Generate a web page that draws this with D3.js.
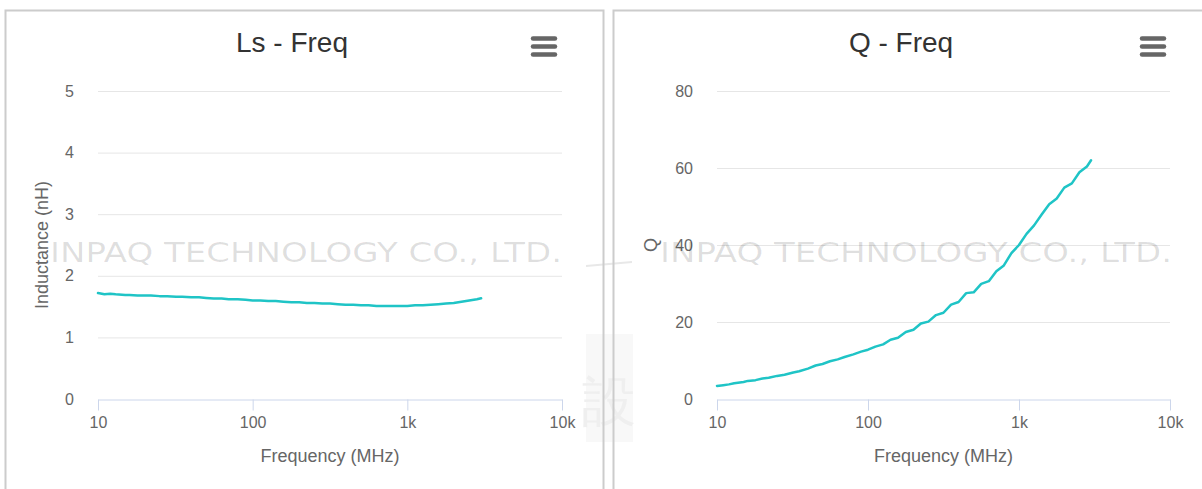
<!DOCTYPE html>
<html>
<head>
<meta charset="utf-8">
<script src="https://cdn.jsdelivr.net/npm/d3@7"></script>
<style>
  html, body { margin: 0; padding: 0; background: #fff; }
  svg { display: block; font-family: "Liberation Sans", Arial, Helvetica, sans-serif; }
</style>
</head>
<body>
<div id="chart"></div>
<script>
// frequency points (MHz)
const freqs = [10, 11, 12, 13, 15, 16, 18, 20, 22, 25, 28, 32, 35, 40, 45, 50, 56, 63, 70, 80, 90,
  100, 112, 126, 141, 158, 178, 200, 224, 251, 282, 316, 355, 398, 447, 501, 562, 631, 708, 794, 891,
  1000, 1122, 1259, 1413, 1585, 1778, 1995, 2239, 2512, 2818, 3000];

// inductance Ls (nH)
const lsValues = [1.72, 1.70, 1.71, 1.70, 1.69, 1.69, 1.68, 1.68, 1.68, 1.67, 1.67, 1.66, 1.66, 1.65, 1.65, 1.64, 1.63, 1.63, 1.62, 1.62, 1.61,
  1.60, 1.60, 1.59, 1.59, 1.58, 1.57, 1.57, 1.56, 1.56, 1.55, 1.55, 1.54, 1.53, 1.53, 1.52, 1.52, 1.51, 1.51, 1.51, 1.51,
  1.51, 1.52, 1.52, 1.53, 1.54, 1.55, 1.56, 1.58, 1.60, 1.62, 1.635];

// quality factor Q
const qValues = [3.4, 3.6, 3.8, 4.1, 4.4, 4.7, 4.9, 5.3, 5.5, 6.0, 6.3, 6.9, 7.2, 7.9, 8.7, 9.1, 9.8, 10.3, 10.9, 11.6, 12.3,
  12.8, 13.6, 14.2, 15.4, 15.9, 17.4, 18.0, 19.6, 20.1, 21.8, 22.4, 24.5, 25.2, 27.5, 27.7, 29.9, 30.6, 33.2, 34.7, 37.9,
  40.0, 42.9, 45.1, 47.9, 50.6, 52.1, 54.9, 56.0, 58.9, 60.4, 62.0];

const xTicks = [10, 100, 1000, 10000];
const xTickLabels = ['10', '100', '1k', '10k'];
const lsTicks = [0, 1, 2, 3, 4, 5];
const qTicks = [0, 20, 40, 60, 80];

const W = 1202, H = 489;
const LINE_COLOR = '#1fc4c6';

const svg = d3.select('#chart').append('svg')
  .attr('width', W)
  .attr('height', H);

// faint logo piece between the two panels (part of the page watermark)
svg.append('rect')
  .attr('x', 586).attr('y', 334).attr('width', 47).attr('height', 108)
  .attr('fill', '#f8f8f8');
svg.append('text')
  .attr('x', 609).attr('y', 420)
  .attr('text-anchor', 'middle')
  .attr('font-size', 54)
  .attr('fill', '#efefef')
  .text('設');
svg.append('path')
  .attr('d', 'M586,266 L632,262')
  .attr('stroke', '#e8e8e8')
  .attr('stroke-width', 2);

function drawPanel(cfg) {
  const g = svg.append('g');

  // panel frame
  g.append('rect')
    .attr('x', cfg.panelX + 0.5).attr('y', 10.5)
    .attr('width', cfg.panelW).attr('height', 520)
    .attr('fill', 'none')
    .attr('stroke', '#cccccc')
    .attr('stroke-width', 2);

  const x = d3.scaleLog().domain([10, 10000]).range([cfg.left, cfg.right]);
  const y = d3.scaleLinear().domain([0, cfg.yMax]).range([399, 91]);

  // title
  g.append('text')
    .attr('x', cfg.titleX).attr('y', 52)
    .attr('text-anchor', 'middle')
    .attr('font-size', 28)
    .attr('fill', '#333333')
    .text(cfg.title);

  // context menu icon
  [38.5, 46.5, 54.5].forEach(cy => {
    g.append('line')
      .attr('x1', cfg.menuX + 2).attr('x2', cfg.menuX + 24)
      .attr('y1', cy).attr('y2', cy)
      .attr('stroke', '#666666')
      .attr('stroke-width', 4.5)
      .attr('stroke-linecap', 'round');
  });

  // gridlines + y labels
  const yAxis = d3.axisLeft(y)
    .tickValues(cfg.yTicks)
    .tickFormat(d3.format('d'))
    .tickSize(-(cfg.right - cfg.left))
    .tickPadding(24);
  const ya = g.append('g')
    .attr('transform', `translate(${cfg.left},0)`)
    .call(yAxis);
  ya.select('.domain').remove();
  ya.selectAll('.tick line')
    .attr('stroke', '#e6e6e6')
    .attr('stroke-width', 1)
    .filter(d => d === 0).remove();
  ya.selectAll('.tick text')
    .attr('font-size', 16)
    .attr('font-family', '"Liberation Sans", Arial, sans-serif')
    .attr('fill', '#666666');

  // y title
  g.append('text')
    .attr('transform', `translate(${cfg.yTitleX},245) rotate(-90)`)
    .attr('text-anchor', 'middle')
    .attr('font-size', 18)
    .attr('fill', '#666666')
    .text(cfg.yTitle);

  // watermark
  g.append('text')
    .attr('x', cfg.wmX).attr('y', 262)
    .attr('font-family', '"DejaVu Sans", sans-serif')
    .attr('font-size', 27)
    .attr('textLength', 512)
    .attr('lengthAdjust', 'spacingAndGlyphs')
    .attr('fill', '#000')
    .attr('fill-opacity', 0.13)
    .text('INPAQ TECHNOLOGY CO., LTD.');

  // x axis
  const xAxis = d3.axisBottom(x)
    .tickValues(xTicks)
    .tickFormat((d, i) => xTickLabels[i])
    .tickSize(11)
    .tickSizeOuter(0)
    .tickPadding(6);
  const xa = g.append('g')
    .attr('transform', 'translate(0,399.5)')
    .call(xAxis);
  xa.select('.domain').attr('stroke', '#ccd6eb');
  xa.selectAll('.tick line').attr('stroke', '#ccd6eb');
  xa.selectAll('.tick text')
    .attr('font-size', 16)
    .attr('font-family', '"Liberation Sans", Arial, sans-serif')
    .attr('fill', '#666666');

  g.append('text')
    .attr('x', (cfg.left + cfg.right) / 2).attr('y', 462)
    .attr('text-anchor', 'middle')
    .attr('font-size', 18)
    .attr('fill', '#666666')
    .text('Frequency (MHz)');

  // series line
  const line = d3.line()
    .x((d, i) => x(freqs[i]))
    .y(d => y(d));
  g.append('path')
    .datum(cfg.values)
    .attr('fill', 'none')
    .attr('stroke', LINE_COLOR)
    .attr('stroke-width', 2.5)
    .attr('stroke-linejoin', 'round')
    .attr('stroke-linecap', 'round')
    .attr('d', line);
}

drawPanel({
  panelX: 5, panelW: 598, left: 98, right: 562, yMax: 5, yTicks: lsTicks,
  title: 'Ls - Freq', titleX: 292, menuX: 531, yTitle: 'Inductance (nH)', yTitleX: 48,
  wmX: 50, values: lsValues
});

drawPanel({
  panelX: 613, panelW: 620, left: 717, right: 1170, yMax: 80, yTicks: qTicks,
  title: 'Q - Freq', titleX: 901, menuX: 1140, yTitle: 'Q', yTitleX: 657,
  wmX: 660, values: qValues
});
</script>
</body>
</html>
